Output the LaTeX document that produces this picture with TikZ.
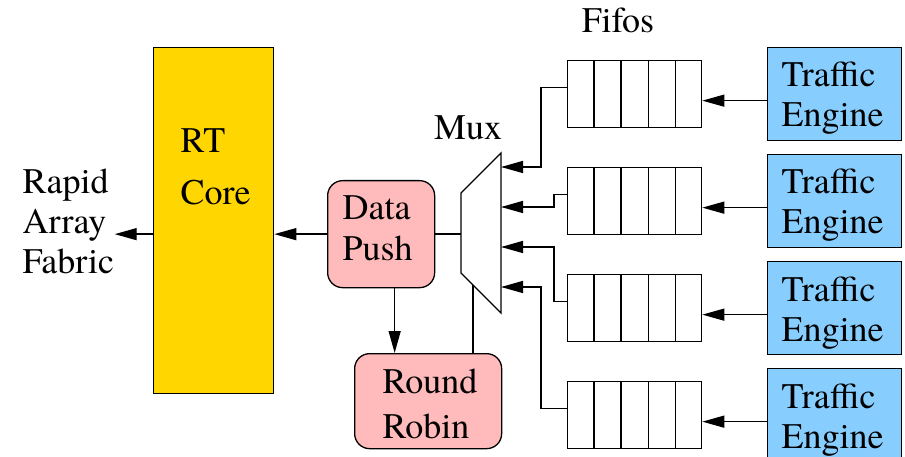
\documentclass[tikz,border=0pt]{standalone}
\usepackage{fontspec}
\IfFontExistsTF{texgyretermes-regular.otf}{\setmainfont{texgyretermes-regular.otf}}{\setmainfont{Liberation Serif}}
\usetikzlibrary{arrows.meta,calc}
\definecolor{coreyellow}{RGB}{255,214,0}
\definecolor{boxpink}{RGB}{255,187,187}
\definecolor{teblue}{RGB}{135,206,255}
\begin{document}
\begin{tikzpicture}[x=1pt,y=-1pt,line width=1.3pt,
  txt/.style={inner sep=0pt,font=\rmfamily\fontsize{36}{40}\selectfont,align=left},
  arr/.style={-{Triangle[length=22pt,width=12pt]}},
  corebox/.style={draw,fill=coreyellow,inner sep=0pt,minimum width=120pt,minimum height=346pt,anchor=north west},
  pinkbox/.style={draw,fill=boxpink,rounded corners=15pt,inner sep=0pt,anchor=north west},
  fifobox/.style={draw,fill=white,inner sep=0pt,minimum width=134pt,minimum height=67pt,anchor=north west},
  tebox/.style={draw,fill=teblue,inner sep=0pt,minimum width=134pt,minimum height=93pt,anchor=north west}]
\useasboundingbox (0,0) rectangle (905,457);

% RT Core
\node[corebox] (rt) at (153,47) {};
\node[txt,anchor=base west] (rtl1) at (180,153) {RT};
\node[txt,anchor=base west] (rtl2) at (180,205) {Core};

% Rapid Array Fabric
\node[txt,anchor=north west] (raf) at (22,168) {Rapid\\Array\\Fabric};

% Data Push and Round Robin
\node[pinkbox,minimum width=107pt,minimum height=107pt] (dp) at (327,180) {};
\node[txt,anchor=base west] (dpl1) at (342,220) {Data};
\node[txt,anchor=base west] (dpl2) at (342,260) {Push};
\node[pinkbox,minimum width=147pt,minimum height=95pt] (rr) at (354,353) {};
\node[txt,anchor=base west] (rrl1) at (382,393) {Round};
\node[txt,anchor=base west] (rrl2) at (382,438) {Robin};

% Mux
\coordinate (m1) at (461,193);
\coordinate (m2) at (501,153);
\coordinate (m3) at (501,313);
\coordinate (m4) at (461,273);
\draw[fill=white] (m1) -- (m2) -- (m3) -- (m4) -- cycle;
\node[txt,anchor=base] (muxl) at (468,140) {Mux};
\coordinate (in1) at (501,167);
\coordinate (in2) at (501,207);
\coordinate (in3) at (501,247);
\coordinate (in4) at (501,287);
\coordinate (rrin) at ($(m4)!0.3!(m3)$);

% Fifos
\node[txt,anchor=base] (fifol) at (618,33) {Fifos};
\foreach \i/\t in {1/60,2/167,3/274,4/381}{
  \node[fifobox] (f\i) at (567,\t) {};
  \foreach \k in {1,...,4}{
    \draw ($(f\i.north west)!\k/5!(f\i.north east)$) -- ($(f\i.south west)!\k/5!(f\i.south east)$);
  }
  \pgfmathtruncatemacro{\tt}{\t-13}
  \node[tebox] (te\i) at (767,\tt) {};
  \node[txt,anchor=base west] (tel\i a) at (781,\tt+40) {Traffic};
  \node[txt,anchor=base west] (tel\i b) at (781,\tt+80) {Engine};
  \draw[arr] ([yshift=-6.5pt]te\i.west) -- ([yshift=-6.5pt]f\i.east);
}

% Connectors
\draw[arr] (dp.west) -- (rt.east |- dp.west);
\draw[arr] (rt.west |- dp.west) -- (raf.east |- dp.west);
\draw (dp.east) -- (dp.east -| m1);
\draw[arr] ([xshift=13.5pt]dp.south) -- ([xshift=13.5pt]dp.south |- rr.north);
\draw (rrin) -- (rrin |- rr.north);
\draw[arr] ([yshift=6.5pt]f1.west) -| ([xshift=40pt]in1) -- (in1);
\draw[arr] ([yshift=6.5pt]f2.west) -| ([xshift=53pt]in2) -- (in2);
\draw[arr] ([yshift=6.5pt]f3.west) -| ([xshift=53pt]in3) -- (in3);
\draw[arr] ([yshift=6.5pt]f4.west) -| ([xshift=40pt]in4) -- (in4);
\end{tikzpicture}
\end{document}
